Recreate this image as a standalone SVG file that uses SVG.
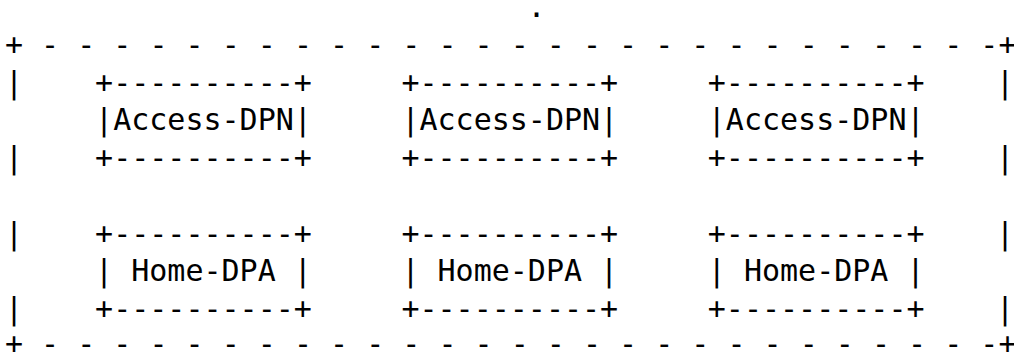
<svg xmlns="http://www.w3.org/2000/svg" width="1014" height="355" viewBox="0 0 1014 355" xml:space="preserve">
<style>
.t{font-family:"DejaVu Sans Mono",monospace;font-size:30px;fill:#000;white-space:pre}
</style>
<rect width="1014" height="355" fill="#fff"/>
<g id="frame" class="t">
<text x="5" y="55">+ - - - - - - - - - - - - - - - - - - - - - - - - - - -+</text>
<text x="5" y="354">+ - - - - - - - - - - - - - - - - - - - - - - - - - - -+</text>
<text x="5" y="92.7">|</text>
<text x="5" y="168.1">|</text>
<text x="5" y="243.5">|</text>
<text x="5" y="318.9">|</text>
<text x="996.1" y="92.7">|</text>
<text x="996.1" y="168.1">|</text>
<text x="996.1" y="243.5">|</text>
<text x="996.1" y="318.9">|</text>
</g>
<g id="connectors"></g>
<g id="dot" class="t"><text x="527.6" y="17.3">.</text></g>
<g id="access1" class="t">
<text x="95.1" y="92.7">+----------+</text>
<text x="95.1" y="130.4">|Access-DPN|</text>
<text x="95.1" y="168.1">+----------+</text>
</g>
<g id="access2" class="t">
<text x="401.4" y="92.7">+----------+</text>
<text x="401.4" y="130.4">|Access-DPN|</text>
<text x="401.4" y="168.1">+----------+</text>
</g>
<g id="access3" class="t">
<text x="707.8" y="92.7">+----------+</text>
<text x="707.8" y="130.4">|Access-DPN|</text>
<text x="707.8" y="168.1">+----------+</text>
</g>
<g id="home1" class="t">
<text x="95.1" y="243.5">+----------+</text>
<text x="95.1" y="281.2">| Home-DPA |</text>
<text x="95.1" y="318.9">+----------+</text>
</g>
<g id="home2" class="t">
<text x="401.4" y="243.5">+----------+</text>
<text x="401.4" y="281.2">| Home-DPA |</text>
<text x="401.4" y="318.9">+----------+</text>
</g>
<g id="home3" class="t">
<text x="707.8" y="243.5">+----------+</text>
<text x="707.8" y="281.2">| Home-DPA |</text>
<text x="707.8" y="318.9">+----------+</text>
</g>
</svg>
